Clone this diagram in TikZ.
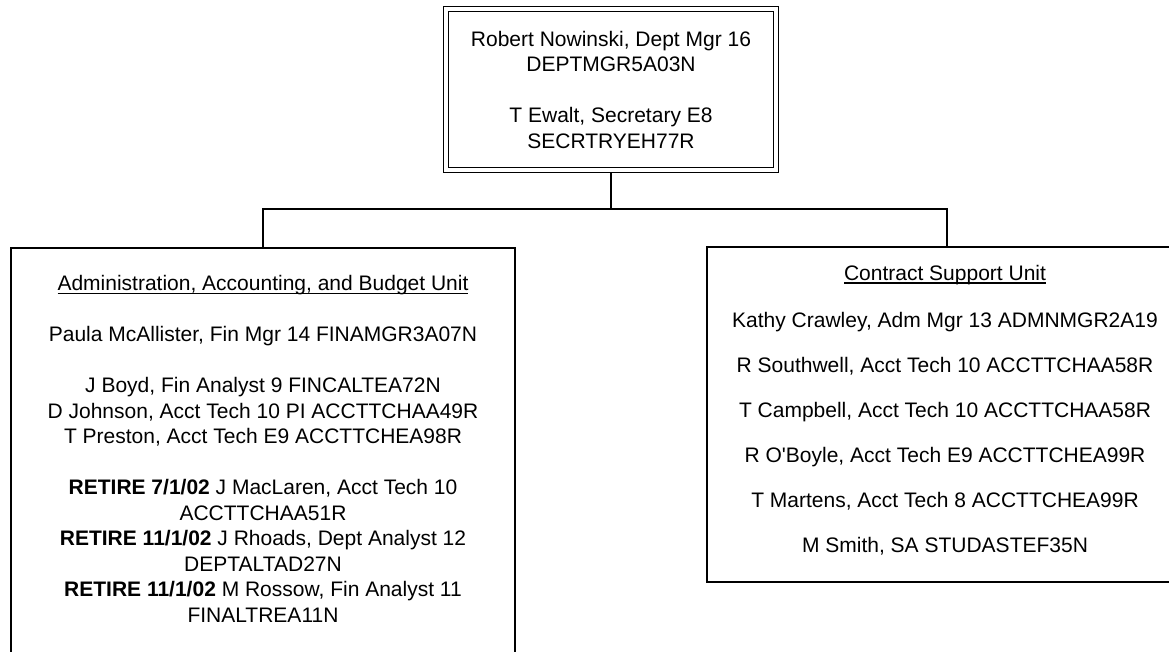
\documentclass[tikz,border=0pt]{standalone}
\usepackage{fontspec}
\setmainfont{Liberation Sans}
\newsavebox\headbox
\newcommand\unithead[1]{\sbox\headbox{#1}\rlap{\rule[-3pt]{\wd\headbox}{1.3pt}}\usebox\headbox}
\begin{document}
\begin{tikzpicture}[x=1pt,y=-1pt,
  font=\fontsize{21}{25.5}\selectfont,
  unitbox/.style={draw,line width=1.8pt,inner sep=0pt,anchor=north},
  unittext/.style={align=center,inner sep=0pt},
  wire/.style={line width=1.6pt}]
\useasboundingbox (0,0) rectangle (1169,652);
\clip (0,0) rectangle (1169,652);
\node[draw,double,line width=1.4pt,double distance=3.6pt,minimum width=329.6pt,minimum height=160.6pt,outer sep=3.2pt,align=center,inner sep=0pt] (mgr) at (611,89.5) {Robert Nowinski, Dept Mgr 16\\DEPTMGR5A03N\\[25.5pt]T Ewalt, Secretary E8\\SECRTRYEH77R};
\node[unitbox,minimum width=504pt,minimum height=440pt] (admin) at (263,247) {};
\node[unitbox,minimum width=480pt,minimum height=335pt] (contract) at (947,246) {};
\node[unittext] (admintext) at (263,449) {\unithead{Administration, Accounting, and Budget Unit}\\[25.5pt]
  Paula McAllister, Fin Mgr 14 FINAMGR3A07N\\[25.5pt]
  J Boyd, Fin Analyst 9 FINCALTEA72N\\
  D Johnson, Acct Tech 10 PI ACCTTCHAA49R\\
  T Preston, Acct Tech E9 ACCTTCHEA98R\\[25.5pt]
  \textbf{RETIRE 7/1/02} J MacLaren, Acct Tech 10\\
  ACCTTCHAA51R\\
  \textbf{RETIRE 11/1/02} J Rhoads, Dept Analyst 12\\
  DEPTALTAD27N\\
  \textbf{RETIRE 11/1/02} M Rossow, Fin Analyst 11\\
  FINALTREA11N};
\node[unittext] (contracttext) at (945,410.5) {\unithead{Contract Support Unit}\\[21.5pt]
  Kathy Crawley, Adm Mgr 13 ADMNMGR2A19\\[19.5pt]
  R Southwell, Acct Tech 10 ACCTTCHAA58R\\[19.5pt]
  T Campbell, Acct Tech 10 ACCTTCHAA58R\\[19.5pt]
  R O\textquotesingle Boyle, Acct Tech E9 ACCTTCHEA99R\\[19.5pt]
  T Martens, Acct Tech 8 ACCTTCHEA99R\\[19.5pt]
  M Smith, SA STUDASTEF35N};
% org lines
\coordinate (split) at (611,209);
\draw[wire] (mgr.south) -- (split);
\draw[wire] (admin.north) |- (split) -| (contract.north);
\end{tikzpicture}
\end{document}
